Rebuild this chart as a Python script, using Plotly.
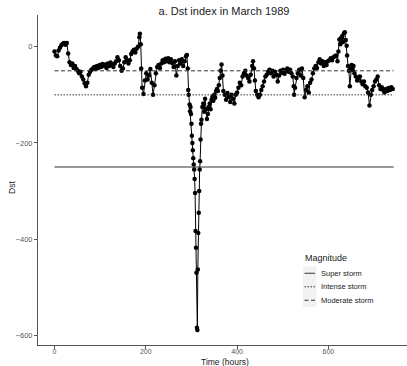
import plotly.graph_objects as go

# ---- data ----
hours = [0, 3, 6, 9, 12, 15, 18, 21, 24, 27, 30, 33, 36, 39, 42, 45, 48, 51, 54, 57,
         60, 63, 66, 69, 72, 75, 78, 81, 84, 87, 90, 93, 96, 99, 102, 105, 108, 111, 114, 117,
         120, 123, 126, 129, 132, 135, 138, 141, 144, 147, 150, 153, 156, 159, 162, 165, 168, 171, 174, 177,
         180, 183, 186, 187, 189, 190, 192, 195, 198, 201, 204, 207, 210, 213, 216, 219, 222, 225, 228, 231,
         234, 237, 240, 243, 246, 249, 252, 255, 258, 261, 264, 267, 270, 273, 276, 279, 282, 285, 288, 290,
         292, 293, 294, 296, 297, 298, 299, 300, 301, 302, 303, 304, 305, 306, 307, 308, 309, 310, 311, 312,
         313, 314, 315, 316, 317, 318, 319, 320, 321, 322, 324, 326, 328, 330, 332, 334, 336, 338, 340, 342,
         344, 346, 348, 350, 352, 354, 356, 358, 360, 362, 364, 366, 368, 370, 373, 376, 379, 382, 385, 388,
         391, 394, 397, 400, 403, 406, 409, 412, 415, 418, 421, 424, 427, 430, 433, 435, 437, 439, 441, 444,
         447, 450, 453, 456, 459, 462, 465, 468, 471, 474, 477, 480, 483, 486, 489, 492, 495, 498, 501, 504,
         507, 510, 513, 516, 519, 522, 524, 525, 527, 530, 533, 536, 539, 542, 545, 548, 551, 554, 557, 560,
         563, 566, 569, 572, 575, 578, 581, 584, 587, 590, 593, 596, 599, 602, 605, 608, 611, 614, 617, 620,
         622, 624, 626, 628, 630, 632, 634, 636, 638, 640, 641, 643, 645, 647, 649, 651, 653, 655, 657, 660,
         663, 666, 669, 672, 675, 678, 681, 684, 687, 690, 693, 696, 699, 702, 705, 708, 711, 714, 717, 720,
         723, 726, 729, 732, 735, 738, 741]
dst = [-10, -18, -20, -8, -2, 3, 6, 8, 4, 8, -14, -32, -38, -35, -44, -40, -46, -50, -55, -52,
       -62, -68, -76, -82, -75, -58, -52, -48, -45, -42, -46, -40, -44, -38, -42, -36, -40, -37, -44, -35,
       -40, -33, -38, -42, -35, -30, -22, -28, -40, -50, -45, -32, -22, -28, -35, -28, -15, -10, -6, -12,
       -4, 0, 20, 27, 5, -45, -85, -98, -70, -55, -68, -60, -46, -75, -100, -80, -55, -42, -38, -44,
       -35, -28, -32, -25, -30, -24, -32, -26, -34, -42, -30, -60, -40, -28, -35, -26, -40, -30, -20, -17,
       -45, -90, -100, -120, -134, -125, -140, -160, -185, -200, -215, -232, -245, -255, -275, -304, -383, -418, -470, -584,
       -589, -463, -387, -345, -300, -255, -238, -193, -160, -152, -125, -118, -135, -108, -130, -150, -140, -125, -118, -130,
       -110, -104, -112, -100, -106, -92, -88, -92, -80, -65, -50, -37, -60, -92, -100, -110, -96, -104, -115, -100,
       -108, -118, -100, -95, -85, -75, -80, -62, -55, -50, -60, -65, -72, -58, -40, -30, -45, -70, -92, -100,
       -105, -100, -90, -82, -72, -62, -58, -52, -48, -55, -50, -62, -52, -58, -72, -60, -50, -54, -48, -56,
       -50, -45, -52, -48, -55, -62, -82, -100, -85, -65, -55, -48, -60, -45, -65, -105, -90, -82, -95, -75,
       -68, -55, -45, -40, -44, -32, -26, -35, -30, -40, -32, -38, -30, -28, -24, -28, -22, -20, -18, -30,
       -10, 15, 5, 18, 22, 10, 28, 30, 14, 2, -18, -40, -50, -82, -45, -38, -48, -40, -55, -62,
       -70, -65, -62, -72, -78, -72, -82, -85, -95, -122, -100, -90, -82, -72, -68, -62, -80, -88, -84, -90,
       -95, -88, -92, -86, -90, -84, -88]

storm_names = ["Super storm", "Intense storm", "Moderate storm"]
storm_levels = [-250, -100, -50]
storm_dashes = ["solid", "1.5px,1.5px", "4px,2.5px"]
line_span = [0, 743]

x_ticks = [0, 200, 400, 600]
y_ticks = [-600, -400, -200, 0]

FONT = "Liberation Sans, Arial, sans-serif"
W, H = 407, 366
ML, MR, MT, MB = 38, 0, 15, 21
PW, PH = W - ML - MR, H - MT - MB


def px(x):
    return (x - ML) / PW


def py(y):
    return (H - MB - y) / PH


fig = go.Figure()

fig.add_trace(go.Scatter(
    x=hours, y=dst, mode="lines+markers",
    line=dict(color="black", width=1),
    marker=dict(color="black", size=4.5),
    showlegend=False, hoverinfo="skip"))

for name, lvl, dash in zip(storm_names, storm_levels, storm_dashes):
    fig.add_trace(go.Scatter(
        x=line_span, y=[lvl, lvl], mode="lines", name=name,
        line=dict(color="#333333", width=1, dash=dash),
        showlegend=False, hoverinfo="skip"))

# ---- manual ggplot-style legend ----
shapes = []
annotations = []
annotations.append(dict(text="Magnitude", x=px(303), y=py(258), xref="paper", yref="paper",
                        xanchor="left", yanchor="middle", showarrow=False,
                        font=dict(size=9, color="#222222", family=FONT)))
key_top = 266.5
key_h = 13.5
for i, (name, dash) in enumerate(zip(storm_names, storm_dashes)):
    t = key_top + i * key_h
    shapes.append(dict(type="rect", xref="paper", yref="paper",
                       x0=px(303), x1=px(316.5), y0=py(t + key_h), y1=py(t),
                       fillcolor="#f2f2f2", line=dict(width=0), layer="below"))
    cy = t + key_h / 2
    shapes.append(dict(type="line", xref="paper", yref="paper",
                       x0=px(304.5), x1=px(315), y0=py(cy), y1=py(cy),
                       line=dict(color="#333333", width=1, dash=dash)))
    annotations.append(dict(text=name, x=px(318.5), y=py(cy), xref="paper", yref="paper",
                            xanchor="left", yanchor="middle", showarrow=False,
                            font=dict(size=7.5, color="#222222", family=FONT)))

# axis titles
annotations.append(dict(text="Time (hours)", x=px(225), y=py(362), xref="paper", yref="paper",
                        xanchor="center", yanchor="middle", showarrow=False,
                        font=dict(size=8.5, color="#222222", family=FONT)))
annotations.append(dict(text="Dst", x=px(12), y=py(188), xref="paper", yref="paper",
                        xanchor="center", yanchor="middle", showarrow=False, textangle=-90,
                        font=dict(size=8.5, color="#222222", family=FONT)))

fig.update_layout(
    width=W, height=H,
    margin=dict(l=ML, r=MR, t=MT, b=MB),
    paper_bgcolor="white", plot_bgcolor="white",
    font=dict(family=FONT, color="#222222"),
    title=dict(text="a. Dst index in March 1989", x=px(224), xanchor="center",
               xref="paper", y=0.97, yanchor="middle", font=dict(size=11, color="#222222")),
    shapes=shapes, annotations=annotations,
    showlegend=False,
)

fig.update_xaxes(
    range=[-36.1, 772.2], tickvals=x_ticks, showgrid=False, zeroline=False,
    showline=True, linecolor="#555555", linewidth=1,
    ticks="outside", ticklen=3, tickcolor="#555555", ticklabelstandoff=-3,
    tickfont=dict(size=7, color="#555555"))

fig.update_yaxes(
    range=[-620, 66], tickvals=y_ticks, showgrid=False, zeroline=False,
    showline=True, linecolor="#555555", linewidth=1,
    ticks="outside", ticklen=3, tickcolor="#555555",
    tickfont=dict(size=7.5, color="#555555"))

fig.write_html("out.html")
